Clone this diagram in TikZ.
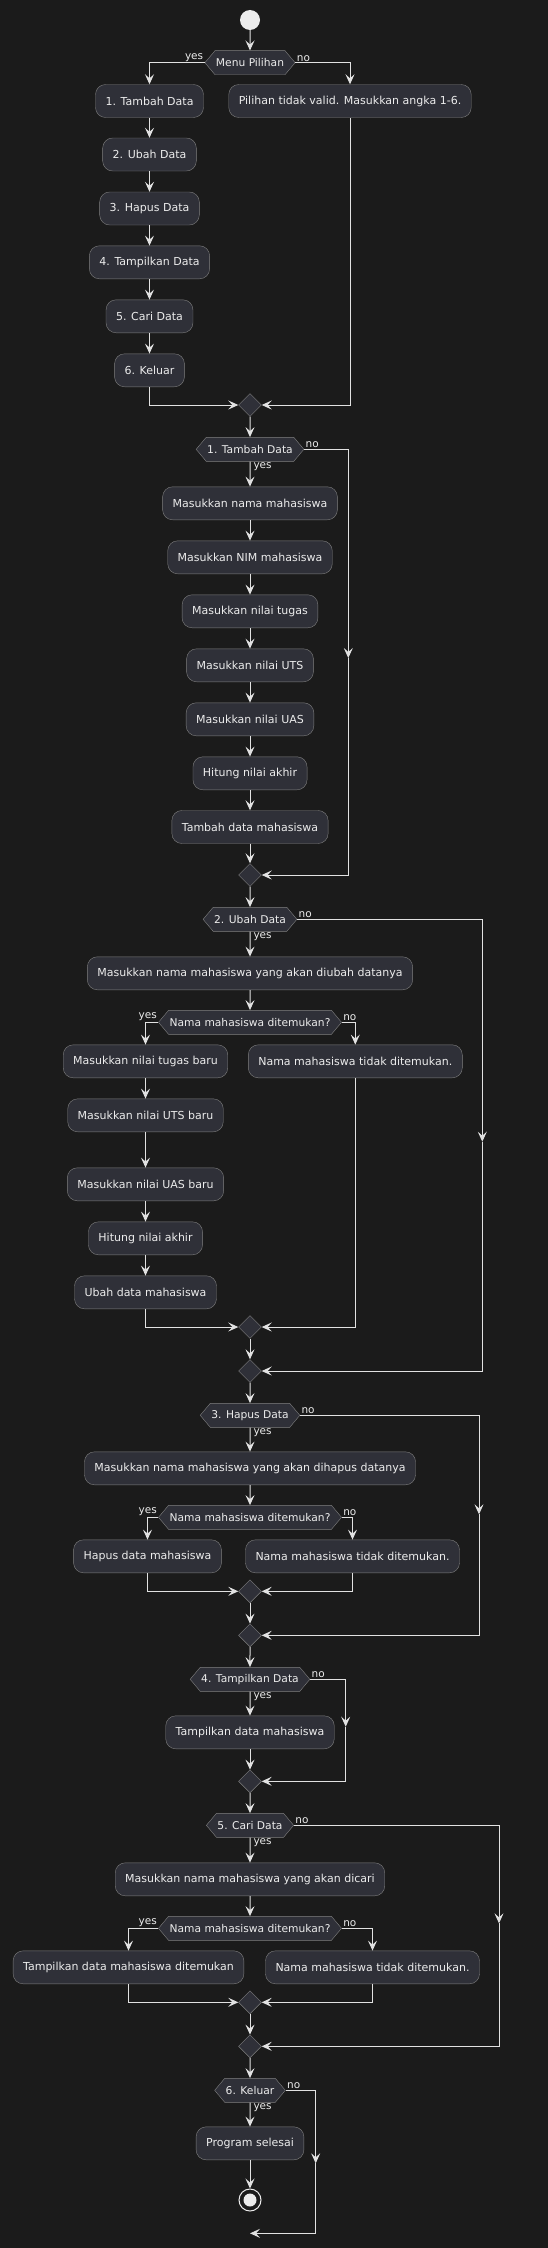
\documentclass[tikz,border=0pt]{standalone}
\usepackage{fontspec}
\setmainfont{DejaVu Sans}
\usetikzlibrary{shapes.geometric,shapes.symbols,arrows.meta}
\definecolor{darkbg}{RGB}{27,27,27}
\definecolor{boxfill}{RGB}{47,48,56}
\definecolor{boxline}{RGB}{128,128,128}
\definecolor{flowline}{RGB}{226,226,226}
\definecolor{softwhite}{RGB}{236,236,236}

\begin{document}
\begin{tikzpicture}[x=1pt, y=-1pt,
    actbox/.style={draw=boxline, fill=boxfill, rounded corners=10pt, minimum height=33pt, inner xsep=10pt, text=softwhite, font=\fontsize{11}{13}\selectfont},
    hexbox/.style={signal, signal to=east and west, signal pointer angle=100, draw=boxline, fill=boxfill, minimum height=24pt, inner xsep=1pt, inner ysep=0pt, text=softwhite, font=\fontsize{10.7}{12}\selectfont},
    mergebox/.style={diamond, draw=boxline, fill=boxfill, minimum size=23pt, inner sep=0pt},
    flow/.style={draw=flowline, line width=1pt, -{Stealth[length=10pt,width=9pt,inset=4pt]}},
    lbl/.style={text=softwhite, font=\fontsize{10.5}{12}\selectfont, inner sep=1pt}]
    \useasboundingbox (0,0) rectangle (547,2248);
    \fill[darkbg] (-5,-5) rectangle (552,2253);

    % menu
    \node[circle, fill=softwhite, minimum size=20pt, inner sep=0pt] (start) at (250,20) {};
    \node[hexbox] (menu) at (250,62.7) {Menu Pilihan};
    \node[actbox] (tambah) at (149.5,101) {1. Tambah Data};
    \node[actbox] (invalid) at (350,101) {Pilihan tidak valid. Masukkan angka 1-6.};
    \node[actbox] (ubah) at (149.5,154.5) {2. Ubah Data};
    \node[actbox] (hapus) at (149.5,208.5) {3. Hapus Data};
    \node[actbox] (tampil) at (149.5,262.3) {4. Tampilkan Data};
    \node[actbox] (cari) at (149.5,316.3) {5. Cari Data};
    \node[actbox] (keluar) at (149.5,370.3) {6. Keluar};
    \node[mergebox] (m0) at (250,405) {};

    \draw[flow] (start) -- (menu);
    \draw[flow] (menu.west) node[lbl, anchor=south east] {yes} -| (tambah);
    \draw[flow] (menu.east) node[lbl, anchor=south west] {no} -| (invalid);
    \draw[flow] (tambah) -- (ubah);
    \draw[flow] (ubah) -- (hapus);
    \draw[flow] (hapus) -- (tampil);
    \draw[flow] (tampil) -- (cari);
    \draw[flow] (cari) -- (keluar);
    \draw[flow] (keluar) |- (m0);
    \draw[flow] (invalid) |- (m0);

    % 1. tambah data
    \node[hexbox] (h1) at (250,449.3) {1. Tambah Data};
    \node[actbox] (inNama) at (250,503.3) {Masukkan nama mahasiswa};
    \node[actbox] (inNim) at (250,557.3) {Masukkan NIM mahasiswa};
    \node[actbox] (inTugas) at (250,611.3) {Masukkan nilai tugas};
    \node[actbox] (inUts) at (250,665.3) {Masukkan nilai UTS};
    \node[actbox] (inUas) at (250,719.3) {Masukkan nilai UAS};
    \node[actbox] (hitung1) at (250,773.3) {Hitung nilai akhir};
    \node[actbox] (simpan) at (250,827) {Tambah data mahasiswa};
    \node[mergebox] (m1) at (250,875) {};
    \coordinate (n1) at (348.3,658);

    \draw[flow] (m0) -- (h1);
    \draw[flow] (h1) -- (inNama) node[lbl, pos=0, anchor=north west, xshift=2pt] {yes};
    \draw[flow] (inNama) -- (inNim);
    \draw[flow] (inNim) -- (inTugas);
    \draw[flow] (inTugas) -- (inUts);
    \draw[flow] (inUts) -- (inUas);
    \draw[flow] (inUas) -- (hitung1);
    \draw[flow] (hitung1) -- (simpan);
    \draw[flow] (simpan) -- (m1);
    \draw[flow] (h1.east) node[lbl, anchor=south west] {no} -| (n1);
    \draw[flow] (n1) |- (m1);

    % 2. ubah data
    \node[hexbox] (h2) at (250,919.3) {2. Ubah Data};
    \node[actbox] (ubNama) at (250,973.3) {Masukkan nama mahasiswa yang akan diubah datanya};
    \node[hexbox] (q2) at (250,1022.3) {Nama mahasiswa ditemukan?};
    \node[actbox] (ubTugas) at (145.5,1061.3) {Masukkan nilai tugas baru};
    \node[actbox] (notFound2) at (355.3,1061.3) {Nama mahasiswa tidak ditemukan.};
    \node[actbox] (ubUts) at (145.5,1115.3) {Masukkan nilai UTS baru};
    \node[actbox] (ubUas) at (145.5,1184.3) {Masukkan nilai UAS baru};
    \node[actbox] (hitung2) at (145.5,1238.3) {Hitung nilai akhir};
    \node[actbox] (ubSimpan) at (145.5,1292.3) {Ubah data mahasiswa};
    \node[mergebox] (m2a) at (250,1327) {};
    \node[mergebox] (m2) at (250,1371) {};
    \coordinate (n2) at (482.3,1141.7);

    \draw[flow] (m1) -- (h2);
    \draw[flow] (h2) -- (ubNama) node[lbl, pos=0, anchor=north west, xshift=2pt] {yes};
    \draw[flow] (ubNama) -- (q2);
    \draw[flow] (q2.west) node[lbl, anchor=south east] {yes} -| (ubTugas);
    \draw[flow] (q2.east) node[lbl, anchor=south west] {no} -| (notFound2);
    \draw[flow] (ubTugas) -- (ubUts);
    \draw[flow] (ubUts) -- (ubUas);
    \draw[flow] (ubUas) -- (hitung2);
    \draw[flow] (hitung2) -- (ubSimpan);
    \draw[flow] (ubSimpan) |- (m2a);
    \draw[flow] (notFound2) |- (m2a);
    \draw[flow] (m2a) -- (m2);
    \draw[flow] (h2.east) node[lbl, anchor=south west] {no} -| (n2);
    \draw[flow] (n2) |- (m2);

    % 3. hapus data
    \node[hexbox] (h3) at (250,1415.3) {3. Hapus Data};
    \node[actbox] (hpNama) at (250,1468.3) {Masukkan nama mahasiswa yang akan dihapus datanya};
    \node[hexbox] (q3) at (250,1517.3) {Nama mahasiswa ditemukan?};
    \node[actbox] (hpHapus) at (147.5,1556.3) {Hapus data mahasiswa};
    \node[actbox] (notFound3) at (352.5,1556.3) {Nama mahasiswa tidak ditemukan.};
    \node[mergebox] (m3a) at (250,1591.3) {};
    \node[mergebox] (m3) at (250,1635.3) {};
    \coordinate (n3) at (479,1514.3);

    \draw[flow] (m2) -- (h3);
    \draw[flow] (h3) -- (hpNama) node[lbl, pos=0, anchor=north west, xshift=2pt] {yes};
    \draw[flow] (hpNama) -- (q3);
    \draw[flow] (q3.west) node[lbl, anchor=south east] {yes} -| (hpHapus);
    \draw[flow] (q3.east) node[lbl, anchor=south west] {no} -| (notFound3);
    \draw[flow] (hpHapus) |- (m3a);
    \draw[flow] (notFound3) |- (m3a);
    \draw[flow] (m3a) -- (m3);
    \draw[flow] (h3.east) node[lbl, anchor=south west] {no} -| (n3);
    \draw[flow] (n3) |- (m3);

    % 4. tampilkan data
    \node[hexbox] (h4) at (250,1679.3) {4. Tampilkan Data};
    \node[actbox] (tpData) at (250,1732.3) {Tampilkan data mahasiswa};
    \node[mergebox] (m4) at (250,1781.3) {};
    \coordinate (n4) at (345.7,1726.7);

    \draw[flow] (m3) -- (h4);
    \draw[flow] (h4) -- (tpData) node[lbl, pos=0, anchor=north west, xshift=2pt] {yes};
    \draw[flow] (tpData) -- (m4);
    \draw[flow] (h4.east) node[lbl, anchor=south west] {no} -| (n4);
    \draw[flow] (n4) |- (m4);

    % 5. cari data
    \node[hexbox] (h5) at (250,1825.3) {5. Cari Data};
    \node[actbox] (crNama) at (250,1879.3) {Masukkan nama mahasiswa yang akan dicari};
    \node[hexbox] (q5) at (250,1928.3) {Nama mahasiswa ditemukan?};
    \node[actbox] (crFound) at (128.5,1967.3) {Tampilkan data mahasiswa ditemukan};
    \node[actbox] (notFound5) at (372.5,1967.3) {Nama mahasiswa tidak ditemukan.};
    \node[mergebox] (m5a) at (250,2002.3) {};
    \node[mergebox] (m5) at (250,2046.3) {};
    \coordinate (n5) at (499,1923.3);

    \draw[flow] (m4) -- (h5);
    \draw[flow] (h5) -- (crNama) node[lbl, pos=0, anchor=north west, xshift=2pt] {yes};
    \draw[flow] (crNama) -- (q5);
    \draw[flow] (q5.west) node[lbl, anchor=south east] {yes} -| (crFound);
    \draw[flow] (q5.east) node[lbl, anchor=south west] {no} -| (notFound5);
    \draw[flow] (crFound) |- (m5a);
    \draw[flow] (notFound5) |- (m5a);
    \draw[flow] (m5a) -- (m5);
    \draw[flow] (h5.east) node[lbl, anchor=south west] {no} -| (n5);
    \draw[flow] (n5) |- (m5);

    % 6. keluar
    \node[hexbox] (h6) at (250,2090.3) {6. Keluar};
    \node[actbox] (selesai) at (250,2143.3) {Program selesai};
    \node[circle, draw=softwhite, line width=1pt, fill=darkbg, minimum size=22pt, inner sep=0pt] (stop) at (250,2200) {};
    \node[circle, fill=softwhite, minimum size=13pt, inner sep=0pt] (stopdot) at (stop) {};
    \coordinate (n6) at (315.7,2163.3);
    \coordinate (e6) at (250,2233.3);

    \draw[flow] (m5) -- (h6);
    \draw[flow] (h6) -- (selesai) node[lbl, pos=0, anchor=north west, xshift=2pt] {yes};
    \draw[flow] (selesai) -- (stop);
    \draw[flow] (h6.east) node[lbl, anchor=south west] {no} -| (n6);
    \draw[flow] (n6) |- (e6);
\end{tikzpicture}
\end{document}
